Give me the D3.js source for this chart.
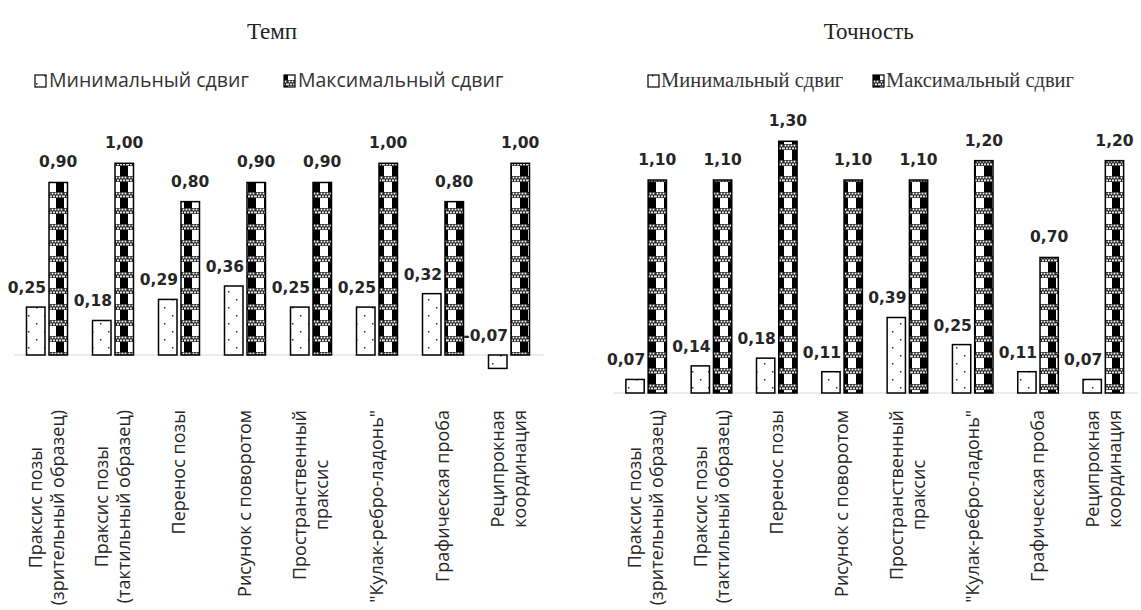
<!DOCTYPE html>
<html>
<head>
<meta charset="utf-8">
<script src="https://cdn.jsdelivr.net/npm/d3@7"></script>
<style>
  html, body { margin: 0; padding: 0; background: #fff; }
  svg { display: block; }
</style>
</head>
<body>
<svg id="chart" width="1141" height="610"></svg>
<script>
// Test names (shared by both panels)
const categories = [
  "Праксис позы\n(зрительный образец)",
  "Праксис позы\n(тактильный образец)",
  "Перенос позы",
  "Рисунок с поворотом",
  "Пространственный\nпраксис",
  "\"Кулак-ребро-ладонь\"",
  "Графическая проба",
  "Реципрокная\nкоординация"
];
const seriesNames = ["Минимальный сдвиг", "Максимальный сдвиг"];

// Panel «Темп»
const tempoMin = [0.25, 0.18, 0.29, 0.36, 0.25, 0.25, 0.32, -0.07];
const tempoMax = [0.90, 1.00, 0.80, 0.90, 0.90, 1.00, 0.80, 1.00];

// Panel «Точность»
const accuracyMin = [0.07, 0.14, 0.18, 0.11, 0.39, 0.25, 0.11, 0.07];
const accuracyMax = [1.10, 1.10, 1.30, 1.10, 1.10, 1.20, 0.70, 1.20];

const svg = d3.select("#chart");
const defs = svg.append("defs");

// Sparse dotted fill for the minimum series
const pMin = defs.append("pattern")
  .attr("id", "patMin").attr("patternUnits", "userSpaceOnUse")
  .attr("width", 16).attr("height", 16);
pMin.append("rect").attr("width", 16).attr("height", 16).attr("fill", "#fff");
pMin.append("rect").attr("x", 4).attr("y", 3).attr("width", 1.5).attr("height", 1.5).attr("fill", "#333");
pMin.append("rect").attr("x", 12).attr("y", 11).attr("width", 1.5).attr("height", 1.5).attr("fill", "#333");

// Half black / half white columns with chain-like dotted bands for the maximum series
const pMax = defs.append("pattern")
  .attr("id", "patMax").attr("patternUnits", "userSpaceOnUse")
  .attr("width", 16).attr("height", 16);
pMax.append("rect").attr("width", 16).attr("height", 16).attr("fill", "#fff");
pMax.append("rect").attr("x", 8).attr("y", 0).attr("width", 8).attr("height", 16).attr("fill", "#000");
pMax.append("rect").attr("x", 0).attr("y", 0).attr("width", 16).attr("height", 6).attr("fill", "#222");
[[1.5, 1.6], [4.5, 1.6], [7.5, 1.6], [10.5, 1.6], [13.5, 1.6],
 [0, 4.4], [3, 4.4], [6, 4.4], [9, 4.4], [12, 4.4], [15, 4.4]].forEach(([cx, cy]) => {
  pMax.append("circle").attr("cx", cx).attr("cy", cy).attr("r", 1.05).attr("fill", "#eee");
});

const fills = ["url(#patMin)", "url(#patMax)"];

function fmt(v) {
  return (v < 0 ? "-" : "") + Math.abs(v).toFixed(2).replace(".", ",");
}

function drawPanel(cfg) {
  const g = svg.append("g");

  const x = d3.scaleBand().domain(categories).range([cfg.x0, cfg.x1]);
  const inner = d3.scaleBand().domain([0, 1]).range([0, x.step()])
    .paddingInner(0.178).paddingOuter(0.556);
  const y = d3.scaleLinear().domain([0, cfg.top]).range([cfg.base, cfg.topY]);

  // Title
  g.append("text")
    .attr("x", (cfg.x0 + cfg.x1) / 2 - 6).attr("y", 39)
    .attr("text-anchor", "middle")
    .style("font-family", "'Liberation Serif', 'Times New Roman', serif")
    .style("font-size", "23px").attr("fill", "#222")
    .text(cfg.title);

  // Legend
  const leg = g.append("g");
  cfg.legend.forEach((lx, i) => {
    leg.append("rect")
      .attr("x", lx).attr("y", cfg.legendY - 12)
      .attr("width", 11).attr("height", 12)
      .attr("fill", fills[i]).attr("stroke", "#000").attr("stroke-width", 1.2);
    leg.append("text")
      .attr("x", lx + cfg.legendGap).attr("y", cfg.legendY)
      .style("font-family", cfg.legendFont)
      .style("font-size", cfg.legendSize).attr("fill", "#333")
      .text(seriesNames[i]);
  });

  // Zero line
  g.append("line")
    .attr("x1", cfg.x0).attr("x2", cfg.x1 + 2)
    .attr("y1", y(0)).attr("y2", y(0))
    .attr("stroke", "#d9d9d9").attr("stroke-width", 1);

  const series = [cfg.min, cfg.max];
  series.forEach((vals, si) => {
    g.append("g").selectAll("rect")
      .data(vals)
      .join("rect")
      .attr("x", (d, i) => x(categories[i]) + inner(si))
      .attr("width", inner.bandwidth())
      .attr("y", d => Math.min(y(d), y(0)))
      .attr("height", d => Math.abs(y(d) - y(0)))
      .attr("fill", fills[si])
      .attr("stroke", "#000").attr("stroke-width", 1.5);
  });

  // Value labels
  const lab = g.append("g")
    .style("font-family", "'DejaVu Sans', Verdana, sans-serif")
    .style("font-weight", "bold").style("font-size", "15.5px")
    .attr("fill", "#262626");
  lab.selectAll("text.mx")
    .data(cfg.max).join("text").attr("class", "mx")
    .attr("x", (d, i) => x(categories[i]) + inner(1) + inner.bandwidth() / 2)
    .attr("y", d => y(d) - 15)
    .attr("text-anchor", "middle")
    .text(fmt);
  lab.selectAll("text.mn")
    .data(cfg.min).join("text").attr("class", "mn")
    .attr("x", (d, i) => x(categories[i]) + inner(0) + inner.bandwidth() + 1)
    .attr("y", d => Math.min(y(d), y(0)) - 14)
    .attr("text-anchor", "end")
    .text(fmt);

  // Rotated category labels, lines centred on each other, block aligned at the top
  const catG = g.append("g")
    .style("font-family", "'Open Sans', 'Noto Sans', sans-serif")
    .style("font-size", "18px").attr("fill", "#262626");
  categories.forEach(c => {
    const lines = c.split("\n");
    const cg = catG.append("g")
      .attr("transform", `translate(${x(c) + x.step() / 2},${cfg.labelTop}) rotate(-90)`);
    const texts = lines.map((ln, k) => cg.append("text")
      .attr("y", (k - (lines.length - 1) / 2) * 22)
      .attr("dy", "0.35em")
      .attr("text-anchor", "middle")
      .text(ln));
    const maxLen = d3.max(texts, t => t.node().getComputedTextLength());
    texts.forEach(t => t.attr("x", -maxLen / 2));
  });
}

drawPanel({
  title: "Темп",
  min: tempoMin, max: tempoMax,
  x0: 14, x1: 542, base: 355, top: 1.0, topY: 163.3,
  legend: [35, 284], legendY: 87, legendGap: 14,
  legendFont: "'Open Sans', 'Noto Sans', sans-serif", legendSize: "19.5px",
  labelTop: 410
});

drawPanel({
  title: "Точность",
  min: accuracyMin, max: accuracyMax,
  x0: 613.5, x1: 1136, base: 393, top: 1.3, topY: 141.3,
  legend: [648, 873], legendY: 87, legendGap: 13,
  legendFont: "'Liberation Serif', 'Times New Roman', serif", legendSize: "20.5px",
  labelTop: 410
});
</script>
</body>
</html>
